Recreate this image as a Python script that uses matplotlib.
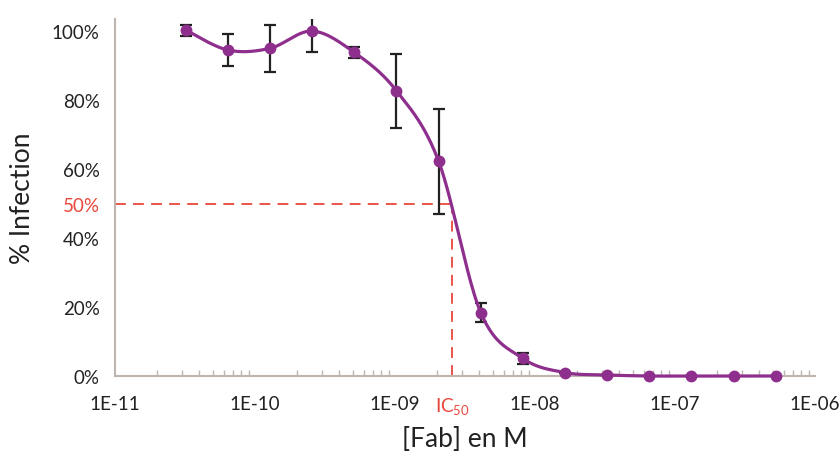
import numpy as np
import matplotlib
matplotlib.use("Agg")
import matplotlib.pyplot as plt
from matplotlib.ticker import LogLocator, NullFormatter, FixedLocator, FixedFormatter

# ---- data ----
conc = [3.2e-11, 6.4e-11, 1.28e-10, 2.56e-10, 5.12e-10, 1.024e-9, 2.048e-9,
        4.096e-9, 8.192e-9, 1.6384e-8, 3.2768e-8, 6.5536e-8, 1.31072e-7,
        2.62144e-7, 5.24288e-7]
infection = [1.003, 0.945, 0.950, 1.000, 0.938, 0.827, 0.623, 0.184, 0.051,
             0.010, 0.003, 0.000, 0.000, 0.000, 0.000]
err = [0.016, 0.046, 0.068, 0.062, 0.016, 0.107, 0.152, 0.028, 0.016,
       0.0, 0.0, 0.0, 0.0, 0.0, 0.0]
ic50 = 2.55e-9
y_ticks = [0.0, 0.2, 0.4, 0.6, 0.8, 1.0]
y_labels = ["0%", "20%", "40%", "60%", "80%", "100%"]
x_ticks = [1e-11, 1e-10, 1e-9, 1e-8, 1e-7, 1e-6]
x_labels = ["1E-11", "1E-10", "1E-09", "1E-08", "1E-07", "1E-06"]

FONT = "Lato"
plt.rcParams["font.family"] = [FONT, "DejaVu Sans"]
plt.rcParams["mathtext.fontset"] = "custom"
plt.rcParams["mathtext.rm"] = FONT
plt.rcParams["mathtext.it"] = FONT
plt.rcParams["mathtext.default"] = "regular"

PURPLE = "#8E2F8E"
RED = "#E8473B"
GREY = "#BDB5AE"
TXT = "#222222"

fig = plt.figure(figsize=(8.4, 4.64), dpi=100)
ax = fig.add_axes([115/840, 1-377/464, 700/840, 357/464])

# smooth curve (Excel-like Catmull-Rom through points in log-x space)
lx = np.log10(conc)
yy = np.array(infection)
P = np.column_stack([lx, yy])
Pp = np.vstack([P[0], P, P[-1]])
cx, cy = [], []
t = np.linspace(0, 1, 40)
for i in range(len(P) - 1):
    p0, p1, p2, p3 = Pp[i], Pp[i+1], Pp[i+2], Pp[i+3]
    b1 = p1 + (p2 - p0) / 6
    b2 = p2 - (p3 - p1) / 6
    seg = ((1-t)**3)[:, None]*p1 + (3*(1-t)**2*t)[:, None]*b1 + (3*(1-t)*t**2)[:, None]*b2 + (t**3)[:, None]*p2
    cx.extend(seg[:, 0]); cy.extend(seg[:, 1])
cx = 10**np.array(cx)

# dashed IC50 lines
ax.plot([1e-11, ic50], [0.5, 0.5], color=RED, lw=1.3, dashes=(6, 4), zorder=2, clip_on=False)
ax.plot([ic50, ic50], [0, 0.5], color=RED, lw=1.3, dashes=(6, 4), zorder=2, clip_on=False)

ax.errorbar(conc, infection, yerr=err, fmt="none", ecolor=TXT, elinewidth=1.6,
            capsize=4.5, capthick=1.6, zorder=3)
ax.plot(cx, cy, color=PURPLE, lw=2.3, zorder=4, clip_on=False)
ax.plot(conc, infection, "o", color=PURPLE, ms=7.5, zorder=5, clip_on=False)

ax.set_xscale("log")
ax.set_xlim(1e-11, 1e-6)
ax.set_ylim(0, 1.035)

# x ticks
ax.xaxis.set_major_locator(FixedLocator(x_ticks + [ic50]))
ax.xaxis.set_major_formatter(FixedFormatter(x_labels + ["IC$_{50}$"]))
ax.xaxis.set_minor_locator(LogLocator(base=10, subs=np.arange(2, 10)))
ax.xaxis.set_minor_formatter(NullFormatter())
ax.tick_params(axis="x", which="major", length=0, pad=14, labelsize=13.5, labelcolor=TXT)
ax.tick_params(axis="x", which="minor", length=4.5, width=1.0, direction="in", color=GREY)
for lab in ax.get_xticklabels():
    if "IC" in lab.get_text():
        lab.set_color(RED)

# y ticks
ax.set_yticks(y_ticks + [0.5])
ax.set_yticklabels(y_labels + ["50%"])
ax.tick_params(axis="y", length=0, pad=11, labelsize=13.5, labelcolor=TXT)
for lab in ax.get_yticklabels():
    if lab.get_text() == "50%":
        lab.set_color(RED)

for s in ["top", "right"]:
    ax.spines[s].set_visible(False)
for s in ["left", "bottom"]:
    ax.spines[s].set_color(GREY)
    ax.spines[s].set_linewidth(1.5)

ax.set_xlabel("[Fab] en M", fontsize=19, color=TXT, labelpad=7)
ax.set_ylabel("% Infection", fontsize=19, color=TXT, labelpad=12)

fig.savefig("out.png", dpi=100)
